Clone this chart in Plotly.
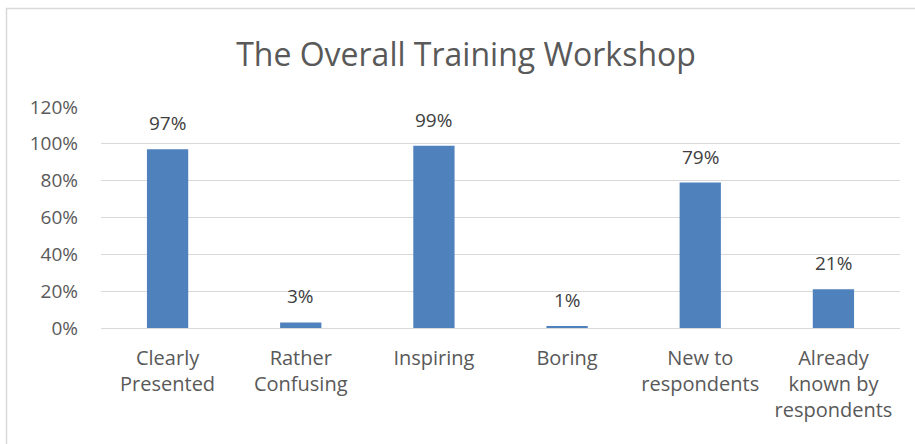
import plotly.graph_objects as go

categories = ["Clearly<br>Presented", "Rather<br>Confusing", "Inspiring", "Boring",
              "New to<br>respondents", "Already<br>known by<br>respondents"]
values = [0.97, 0.03, 0.99, 0.01, 0.79, 0.21]
value_labels = ["97%", "3%", "99%", "1%", "79%", "21%"]
tick_vals = [0, 0.2, 0.4, 0.6, 0.8, 1.0, 1.2]
tick_text = ["0%", "20%", "40%", "60%", "80%", "100%", "120%"]

W, H = 915, 444
L, R, T, B = 101, 15, 107, 116
pw, ph = W - L - R, H - T - B

def px2x(p):
    return (p - L) / pw

def px2y(p):
    return (H - B - p) / ph

FONT = "Open Sans"

fig = go.Figure()
fig.add_trace(go.Bar(
    x=categories, y=values,
    marker=dict(color="#4F81BD", line=dict(width=0)),
    width=0.31,
    hoverinfo="skip",
))

annotations = [
    dict(x=c, y=v, text=t, xref="x", yref="y", showarrow=False,
         yanchor="bottom", yshift=11,
         font=dict(family=FONT, size=19, color="#404040"))
    for c, v, t in zip(categories, values, value_labels)
]

fig.update_layout(
    width=W, height=H,
    margin=dict(l=L, r=R, t=T, b=B),
    paper_bgcolor="white", plot_bgcolor="white",
    title=dict(text="The Overall Training Workshop", x=466 / W, xanchor="center",
               y=1 - 55 / H, yanchor="middle",
               font=dict(family=FONT, size=32, color="#595959")),
    showlegend=False,
    annotations=annotations,
    xaxis=dict(tickfont=dict(family=FONT, size=20, color="#595959"),
               showline=False, ticks="", showgrid=False, ticklabelstandoff=16,
               fixedrange=True),
    yaxis=dict(range=[0, 1.2], tickvals=tick_vals, ticktext=tick_text,
               tickfont=dict(family=FONT, size=19, color="#595959"),
               showgrid=True, gridcolor="#D9D9D9", gridwidth=1.3,
               zeroline=True, zerolinecolor="#D9D9D9", zerolinewidth=1.3,
               ticks="", ticklabelstandoff=22, fixedrange=True),
    shapes=[dict(type="rect", xref="paper", yref="paper",
                 x0=px2x(6.5), x1=px2x(930), y0=px2y(8.5), y1=px2y(460),
                 line=dict(color="#D9D9D9", width=1.5), fillcolor="rgba(0,0,0,0)",
                 layer="below")],
)

fig.write_html("out.html", config={"displayModeBar": False},
               post_script="document.body.style.margin='0';")
